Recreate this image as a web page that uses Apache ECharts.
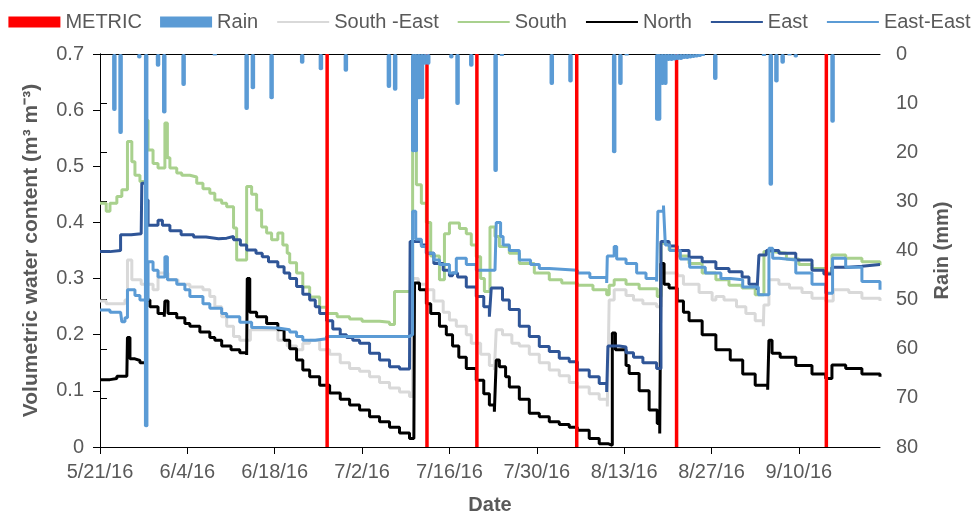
<!DOCTYPE html>
<html><head><meta charset="utf-8">
<script src="https://cdn.jsdelivr.net/npm/echarts@6/dist/echarts.min.js"></script>
<style>html,body{margin:0;padding:0;background:#fff}#c{width:979px;height:512px}</style>
</head><body><div id="c"></div>
<script>
// x values are days since 5/21/16
const tickLabels = ['5/21/16','6/4/16','6/18/16','7/2/16','7/16/16','7/30/16','8/13/16','8/27/16','9/10/16'];
const tickDays = [0,14,28,42,56,70,84,98,112];
const metricDays = [36.4, 52.4, 60.4, 76.4, 92.4, 116.4];
const rain = [[2.3,11.6],[3.3,16.3],[6.3,0.9],[7.4,76],[9.3,2.6],[10.3,12.1],[13.4,6.5],[18.4,0.3],
  [23.5,11.4],[24.5,7.2],[27.5,9.2],[32.4,2.0],[35.4,3.3],[39.4,3.6],[46.3,6.9],[47.3,7.5],
  [50.2,20],[50.6,20],[51.1,9.2],[51.6,9.2],[52.1,2.2],[52.6,2.2],[56.3,0.9],[57.3,10.4],[59.5,2.6],
  [63.4,24],[64.4,0.4],[72.4,6.3],[75.4,5.8],[82.4,20.2],[83.4,6.3],[84.4,0.3],
  [89.3,13.6],[89.6,13.6],[90.1,6.3],[90.6,6.3],[91.1,1.4],[91.6,1.4],[92.1,1.3],[92.6,1.2],[93.1,1.2],
  [93.6,1.0],[94.1,1.0],[94.6,0.9],[95.1,0.8],[95.6,0.7],[96.1,0.6],[96.6,0.4],[98.6,5.3],
  [106.4,0.4],[107.5,26.8],[108.4,5.8],[109.4,2.0],[110.5,0.3],[111.5,0.7],[117.4,14]];
const southEast = [[0,0.26],[1.0,0.255],[2.7,0.255],[4.0,0.262],[4.4,0.333],[5.1,0.298],[6.6,0.29],[7.7,0.29],
  [8.5,0.28],[9.3,0.31],[10.9,0.298],[12.5,0.29],[14.4,0.285],[16.5,0.28],[17.6,0.268],[18.4,0.25],[19.5,0.232],
  [20.3,0.215],[21.4,0.197],[22.4,0.19],[24.1,0.209],[27.5,0.209],[28.5,0.19],[30.0,0.18],[31.5,0.173],
  [32.5,0.185],[33.6,0.19],[35.2,0.173],[36.8,0.165],[38.5,0.15],[40,0.14],[41.6,0.135],[43.2,0.125],
  [44.8,0.115],[46.4,0.105],[48,0.098],[49.6,0.09],[50.1,0.3],[51,0.29],[52.3,0.28],[53.5,0.26],[55,0.24],
  [56,0.226],[57.1,0.215],[58.7,0.2],[59.5,0.185],[61,0.165],[62.4,0.145],[63.2,0.137],[63.5,0.209],
  [64.5,0.2],[66,0.185],[67.2,0.18],[68.8,0.165],[70.4,0.15],[72,0.137],[73.6,0.127],[75.2,0.115],
  [76.5,0.107],[78.4,0.095],[80,0.085],[81.3,0.072],[81.6,0.262],[82.4,0.28],[83.2,0.28],[84.3,0.27],
  [85.5,0.262],[87,0.255],[89.2,0.25],[89.9,0.31],[92.5,0.305],[93.5,0.29],[96,0.275],[98.1,0.262],
  [98.7,0.268],[100,0.262],[102,0.25],[103.5,0.238],[105,0.225],[106.3,0.215],[106.4,0.253],[107.2,0.298],
  [108.8,0.29],[110.5,0.283],[112.5,0.275],[114.1,0.265],[116.3,0.26],[117.5,0.28],[120,0.275],[122.1,0.265],[125,0.26]];
const south = [[0,0.434],[1.0,0.42],[1.6,0.434],[2.7,0.446],[3.5,0.458],[4.4,0.544],[5.1,0.508],[5.6,0.484],
  [6.4,0.473],[7.3,0.582],[7.7,0.529],[8.5,0.505],[9.3,0.497],[10.4,0.577],[10.8,0.515],[11.2,0.497],
  [12.3,0.488],[13.1,0.484],[14.4,0.481],[15.5,0.47],[16.5,0.46],[17.6,0.452],[18.4,0.44],[19.5,0.434],
  [20.3,0.428],[21.4,0.39],[21.9,0.333],[23.5,0.464],[24.3,0.45],[25.1,0.422],[25.9,0.392],[26.7,0.381],
  [27.5,0.369],[28.5,0.381],[29.3,0.36],[30.0,0.345],[30.4,0.328],[31.5,0.31],[32.5,0.285],[33.6,0.267],
  [35.2,0.249],[36.3,0.238],[38,0.232],[40,0.228],[42,0.224],[44.8,0.222],[46.4,0.218],[47.2,0.277],
  [50.1,0.541],[50.7,0.467],[51.5,0.434],[52.3,0.4],[53,0.34],[54.4,0.298],[55.2,0.38],[56,0.399],
  [57.6,0.389],[58.7,0.38],[59.5,0.36],[60.3,0.339],[61,0.3],[61.6,0.277],[62.5,0.392],[63.3,0.375],
  [64,0.357],[65.6,0.345],[67.2,0.327],[69.6,0.31],[72,0.298],[74,0.292],[76.5,0.288],[79,0.28],
  [81.2,0.271],[81.6,0.288],[82.4,0.298],[84.3,0.29],[86.4,0.282],[89.3,0.268],[89.9,0.363],[91.2,0.351],
  [92.5,0.34],[94.4,0.327],[96.5,0.31],[98.7,0.298],[100.8,0.288],[102.9,0.283],[105,0.271],[106.4,0.348],
  [107.7,0.345],[110,0.335],[112,0.325],[114.1,0.318],[116.3,0.31],[117.3,0.342],[119.5,0.336],[122.1,0.33],[125,0.324]];
const north = [[0,0.12],[1.6,0.122],[2.7,0.126],[4.3,0.126],[4.4,0.195],[4.8,0.157],[5.6,0.154],[6.4,0.15],
  [7.3,0.143],[7.4,0.262],[8.0,0.25],[9.3,0.238],[10.3,0.232],[10.4,0.26],[10.9,0.238],[12.3,0.23],
  [13.6,0.22],[14.4,0.215],[16,0.205],[17.6,0.195],[18.4,0.19],[19.5,0.18],[21,0.173],[22.4,0.168],
  [23.5,0.164],[23.6,0.30],[24.0,0.24],[25.1,0.232],[26.7,0.22],[28.5,0.209],[29.5,0.19],[30.4,0.175],
  [31.5,0.155],[32.5,0.137],[33.6,0.125],[35.2,0.11],[36.8,0.096],[38.5,0.085],[40,0.075],[41.6,0.066],
  [43.2,0.054],[44.8,0.045],[46.4,0.035],[48,0.025],[49.6,0.015],[50.3,0.012],[50.4,0.292],[51.2,0.28],
  [52.3,0.255],[53.0,0.238],[54.4,0.215],[55.5,0.2],[56.5,0.18],[57.5,0.16],[58.7,0.14],[60.3,0.119],
  [61.5,0.095],[62.4,0.075],[63.2,0.063],[63.5,0.155],[64,0.143],[65,0.125],[65.6,0.107],[67.2,0.085],
  [68.8,0.06],[70.4,0.054],[72,0.045],[73.6,0.04],[75.2,0.035],[76.5,0.03],[78.4,0.015],[80,0.006],
  [81.4,0.003],[82.1,0.203],[82.6,0.173],[84.3,0.145],[84.8,0.131],[86.4,0.1],[88,0.066],[89.3,0.042],
  [89.7,0.024],[89.9,0.327],[90.4,0.29],[91.2,0.283],[92.5,0.26],[93.5,0.24],[94.4,0.225],[96.5,0.2],
  [98.7,0.173],[101,0.155],[103,0.13],[105,0.11],[107,0.102],[107.2,0.19],[107.7,0.167],[109,0.16],
  [111.5,0.145],[114.1,0.13],[116.3,0.122],[117.3,0.146],[119.5,0.14],[122.1,0.13],[125,0.125]];
const east = [[0,0.348],[1.6,0.35],[3.3,0.378],[5,0.38],[6.6,0.38],[6.7,0.47],[7.3,0.44],[7.7,0.395],
  [9.3,0.404],[10.0,0.395],[11.2,0.385],[13,0.378],[15,0.374],[17,0.371],[19,0.372],[20.3,0.375],
  [21.4,0.369],[22.5,0.36],[23.5,0.351],[25.0,0.345],[26.0,0.339],[27.0,0.33],[28.5,0.321],[29.5,0.31],
  [30.4,0.3],[31.5,0.286],[32.5,0.272],[33.6,0.262],[34.5,0.25],[35.2,0.238],[36.3,0.225],[37.3,0.21],
  [38.5,0.2],[39.5,0.195],[40.5,0.19],[41.6,0.185],[43.2,0.167],[44.8,0.155],[46.4,0.143],[48,0.139],
  [49.6,0.137],[49.7,0.366],[51.5,0.36],[52.3,0.345],[53.5,0.327],[55,0.315],[56,0.305],[56.5,0.31],
  [57.3,0.303],[58.7,0.285],[60.3,0.268],[61.5,0.25],[62.4,0.232],[62.7,0.283],[64.5,0.262],[65.6,0.245],
  [67.2,0.215],[68.8,0.197],[70.4,0.179],[72,0.17],[73.6,0.158],[75.2,0.152],[76.5,0.137],[78.4,0.125],
  [80,0.113],[81.2,0.098],[81.4,0.18],[83.2,0.178],[84.3,0.168],[85.5,0.16],[87,0.15],[89.2,0.14],
  [89.9,0.366],[91.2,0.358],[92.5,0.35],[94.4,0.338],[96.5,0.33],[98.7,0.318],[100.8,0.312],[102.9,0.303],
  [104,0.29],[105.3,0.28],[105.6,0.342],[106.8,0.35],[108.8,0.345],[111.5,0.333],[114.1,0.315],[116,0.308],
  [117.3,0.32],[120,0.322],[122.1,0.325],[125,0.325]];
const eastEast = [[0,0.244],[1.6,0.24],[3.3,0.24],[3.5,0.223],[4.0,0.23],[4.4,0.28],[5.6,0.27],[6.4,0.262],
  [7.7,0.33],[8.5,0.315],[9.3,0.303],[10.4,0.339],[10.8,0.298],[12.3,0.29],[13.6,0.28],[14.4,0.268],
  [16.5,0.255],[17.6,0.247],[19.5,0.238],[20.3,0.232],[22.4,0.222],[24.3,0.213],[25.9,0.212],[28.5,0.209],
  [30.4,0.205],[31.5,0.197],[32.5,0.19],[34.5,0.193],[36.3,0.197],[49.6,0.2],[50.1,0.42],[50.6,0.37],
  [51.5,0.357],[52.3,0.345],[53.5,0.333],[54.4,0.325],[56,0.31],[57.1,0.336],[58.7,0.325],[60.3,0.315],
  [63.3,0.315],[63.5,0.4],[64.2,0.375],[64.6,0.36],[65.6,0.35],[67.2,0.333],[69,0.325],[70.4,0.318],
  [72,0.315],[76.5,0.31],[78.5,0.302],[81.2,0.292],[81.3,0.34],[82.4,0.357],[82.8,0.335],[84.3,0.327],
  [86,0.31],[87.5,0.3],[89.2,0.295],[89.4,0.42],[90.3,0.43],[90.6,0.36],[91.3,0.35],[93.0,0.335],
  [94.5,0.32],[97,0.31],[99.5,0.3],[101,0.298],[103,0.285],[105.5,0.271],[106.8,0.271],[107.2,0.354],
  [107.8,0.336],[108.8,0.333],[111.5,0.31],[114.1,0.29],[116.3,0.274],[117.4,0.336],[119.5,0.32],
  [122.1,0.295],[125,0.28]];

const FONT = "'Liberation Sans', Arial, sans-serif";
const TXT = '#595959';
const NOFILL = 'rgba(0,0,0,0)';
const chart = echarts.init(document.getElementById('c'), null, {renderer: 'canvas'});

function lineSeries(name, data, color) {
  return {name, type: 'line', data, step: 'end', symbol: 'circle', showSymbol: false, z: 2,
    lineStyle: {color, width: 3}, itemStyle: {color}, emphasis: {disabled: true}};
}
function lineLegend(name) {
  return {name, itemStyle: {color: NOFILL, borderColor: NOFILL, borderWidth: 0}};
}

chart.setOption({
  animation: false,
  textStyle: {fontFamily: FONT},
  legend: {
    top: 12, left: 'center', padding: 0, itemGap: 18, itemWidth: 52, itemHeight: 11,
    textStyle: {fontFamily: FONT, fontSize: 20, color: TXT},
    data: [
      {name: 'METRIC', icon: 'rect'}, {name: 'Rain', icon: 'rect'},
      lineLegend('South -East'), lineLegend('South'), lineLegend('North'),
      lineLegend('East'), lineLegend('East-East')
    ]
  },
  grid: {left: 100, right: 99, top: 54, bottom: 65, containLabel: false, outerBoundsMode: 'none'},
  xAxis: [{
    type: 'value', min: 0, max: 125, position: 'bottom',
    name: 'Date', nameLocation: 'middle', nameGap: 48,
    nameTextStyle: {fontFamily: FONT, fontSize: 20, fontWeight: 'bold', color: TXT},
    axisLine: {show: true, lineStyle: {color: '#000', width: 1}},
    axisTick: {show: true, length: 7, lineStyle: {color: '#000'}, customValues: tickDays},
    axisLabel: {fontFamily: FONT, fontSize: 20, color: TXT, margin: 15, customValues: tickDays,
      formatter: v => { const i = tickDays.indexOf(Math.round(v)); return i >= 0 ? tickLabels[i] : ''; }},
    splitLine: {show: false}
  }, {
    type: 'value', min: 0, max: 125, position: 'top',
    axisLine: {show: true, lineStyle: {color: '#000', width: 1}},
    axisTick: {show: false}, axisLabel: {show: false}, splitLine: {show: false}
  }],
  yAxis: [{
    type: 'value', min: 0, max: 0.7, interval: 0.1, position: 'left',
    name: 'Volumetric water content (m³ m⁻³)', nameLocation: 'middle', nameGap: 58,
    nameTextStyle: {fontFamily: FONT, fontSize: 21, fontWeight: 'bold', color: TXT},
    axisLine: {show: true, lineStyle: {color: '#000', width: 1}},
    axisTick: {show: true, length: 7, lineStyle: {color: '#000'}},
    axisLabel: {fontFamily: FONT, fontSize: 20, color: TXT, margin: 16,
      formatter: v => String(+v.toFixed(1))},
    splitLine: {show: false}
  }, {
    type: 'value', min: 0, max: 80, interval: 10, position: 'right', inverse: true,
    name: 'Rain (mm)', nameLocation: 'middle', nameGap: 52, nameRotate: 90,
    nameTextStyle: {fontFamily: FONT, fontSize: 20, fontWeight: 'bold', color: TXT},
    axisLine: {show: true, lineStyle: {color: '#000', width: 1}},
    axisTick: {show: true, length: 7, lineStyle: {color: '#000'}},
    axisLabel: {fontFamily: FONT, fontSize: 20, color: TXT, margin: 16},
    splitLine: {show: false}
  }],
  series: [
    {name: 'METRIC', type: 'bar', xAxisIndex: 1, yAxisIndex: 0, barWidth: 3.5, z: 3,
      itemStyle: {color: '#FF0000'}, data: metricDays.map(d => [d, 0.7])},
    {name: 'Rain', type: 'bar', xAxisIndex: 0, yAxisIndex: 1, barWidth: 4.5, z: 4,
      itemStyle: {color: '#5B9BD5', borderRadius: 2}, data: rain},
    lineSeries('South -East', southEast, '#D9D9D9'),
    lineSeries('South', south, '#A9D18E'),
    lineSeries('North', north, '#000000'),
    lineSeries('East', east, '#2F5597'),
    lineSeries('East-East', eastEast, '#5B9BD5')
  ]
});
</script></body></html>
